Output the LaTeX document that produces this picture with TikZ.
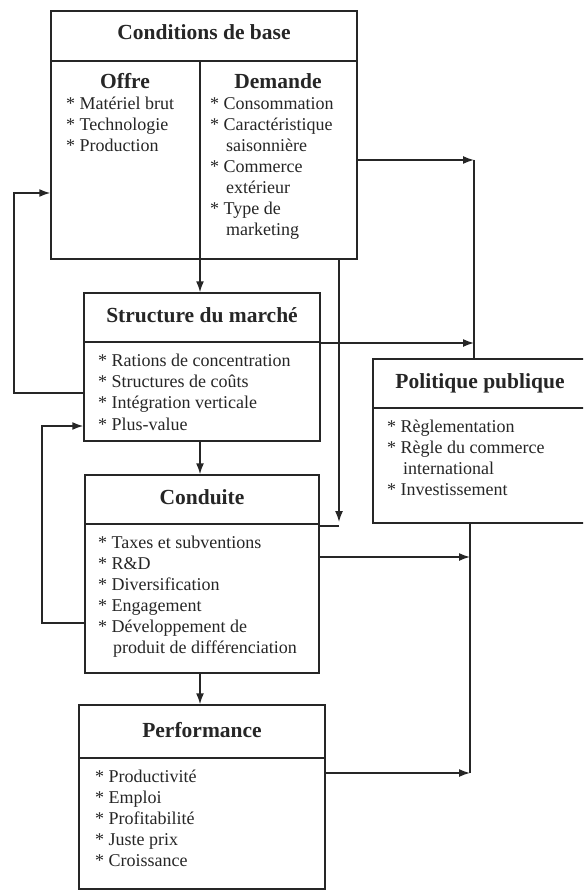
\documentclass[tikz,border=0pt]{standalone}
\usepackage{fontspec}
\setmainfont{Liberation Serif}
\usetikzlibrary{arrows.meta}
\begin{document}
\begin{tikzpicture}[x=1pt,y=-1pt,
  boxline/.style={draw=black!85, line width=1.5pt},
  box/.style={boxline, rectangle, inner sep=0pt},
  ttl/.style={font=\fontsize{21.5}{24}\selectfont\bfseries, inner sep=0pt, anchor=base, text=black!85},
  itm/.style={font=\fontsize{18}{21}\selectfont, inner sep=0pt, anchor=base west, text=black!85},
  conn/.style={draw=black!85, line width=1.5pt},
  arr/.style={conn, -{Latex[length=11pt,width=8pt]}},
]
\useasboundingbox (0,0) rectangle (583,890);
\fill[white] (0,0) rectangle (583,890);
\clip (0,0) rectangle (583,890);

% boxes
\node[box, minimum width=306pt, minimum height=248pt] (cb) at (204,135) {};
\node[box, minimum width=236pt, minimum height=148pt] (sm) at (202,367) {};
\node[box, minimum width=234pt, minimum height=198pt] (cd) at (202,574) {};
\node[box, minimum width=246pt, minimum height=184pt] (pf) at (202,797) {};
\node[box, minimum width=227pt, minimum height=164pt] (pp) at (486.5,441) {};

% header separators
\coordinate (scb) at (0,61);
\coordinate (ssm) at (0,342);
\coordinate (scd) at (0,524);
\coordinate (spf) at (0,758);
\coordinate (spp) at (0,408);
\draw[boxline] (scb -| cb.west) -- (scb -| cb.east);
\draw[boxline] (ssm -| sm.west) -- (ssm -| sm.east);
\draw[boxline] (scd -| cd.west) -- (scd -| cd.east);
\draw[boxline] (spf -| pf.west) -- (spf -| pf.east);
\draw[boxline] (spp -| pp.west) -- (spp -| pp.east);
\coordinate (cbdiv) at (200,61);
\draw[boxline] (cbdiv) -- (cbdiv |- cb.south);

% titles
\node[ttl] (tcb) at (204,40) {Conditions de base};
\node[ttl] (toff) at (125,89) {Offre};
\node[ttl] (tdem) at (278,89) {Demande};
\node[ttl] (tsm) at (202,322) {Structure du marché};
\node[ttl] (tcd) at (202,504) {Conduite};
\node[ttl] (tpf) at (202,737) {Performance};
\node[ttl] (tpp) at (480,388) {Politique publique};

% Offre
\node[itm] (o1) at (66,110) {* Matériel brut};
\node[itm] (o2) at (66,131) {* Technologie};
\node[itm] (o3) at (66,152) {* Production};
% Demande
\node[itm] (d1) at (210,110) {* Consommation};
\node[itm] (d2) at (210,131) {* Caractéristique};
\node[itm] (d3) at (226,152) {saisonnière};
\node[itm] (d4) at (210,173) {* Commerce};
\node[itm] (d5) at (226,194) {extérieur};
\node[itm] (d6) at (210,215) {* Type de};
\node[itm] (d7) at (226,236) {marketing};
% Structure
\node[itm] (s1) at (98,366) {* Rations de concentration};
\node[itm] (s2) at (98,387) {* Structures de coûts};
\node[itm] (s3) at (98,408) {* Intégration verticale};
\node[itm] (s4) at (98,430) {* Plus-value};
% Conduite
\node[itm] (c1) at (98,548) {* Taxes et subventions};
\node[itm] (c2) at (98,569) {* R\&D};
\node[itm] (c3) at (98,590) {* Diversification};
\node[itm] (c4) at (98,611) {* Engagement};
\node[itm] (c5) at (98,632) {* Développement de};
\node[itm] (c6) at (113,653) {produit de différenciation};
% Performance
\node[itm] (p1) at (95,782) {* Productivité};
\node[itm] (p2) at (95,803) {* Emploi};
\node[itm] (p3) at (95,824) {* Profitabilité};
\node[itm] (p4) at (95,845) {* Juste prix};
\node[itm] (p5) at (95,866) {* Croissance};
% Politique
\node[itm] (q1) at (387,432) {* Règlementation};
\node[itm] (q2) at (387,453) {* Règle du commerce};
\node[itm] (q3) at (403,474) {international};
\node[itm] (q4) at (387,495) {* Investissement};

% connectors
\coordinate (xa) at (200,0);
\draw[arr] (xa |- cb.south) -- (xa |- sm.north);
\draw[arr] (xa |- sm.south) -- (xa |- cd.north);
\draw[arr] (xa |- cd.south) -- (xa |- pf.north);

\coordinate (kb) at (339,522);
\draw[arr] (kb |- cb.south) -- (kb);
\coordinate (kc) at (339,526);
\draw[conn] (kc) -- (kc -| cd.east);

\coordinate (r1) at (474,160);
\coordinate (r2) at (474,343);
\coordinate (r3) at (470,557);
\coordinate (r4) at (470,773);
\draw[arr] (r1 -| cb.east) -- (r1);
\draw[conn] (r1) -- (r1 |- pp.north);
\draw[arr] (r2 -| sm.east) -- (r2);
\draw[arr] (r3 -| cd.east) -- (r3);
\draw[arr] (r4 -| pf.east) -- (r4);
\draw[conn] (r4) -- (r4 |- pp.south);

\coordinate (l1a) at (14,393);
\coordinate (l1b) at (14,193);
\draw[arr] (l1a -| sm.west) -- (l1a) -- (l1b) -- (l1b -| cb.west);
\coordinate (l2a) at (42,623);
\coordinate (l2b) at (42,426);
\draw[arr] (l2a -| cd.west) -- (l2a) -- (l2b) -- (l2b -| sm.west);
\end{tikzpicture}
\end{document}
